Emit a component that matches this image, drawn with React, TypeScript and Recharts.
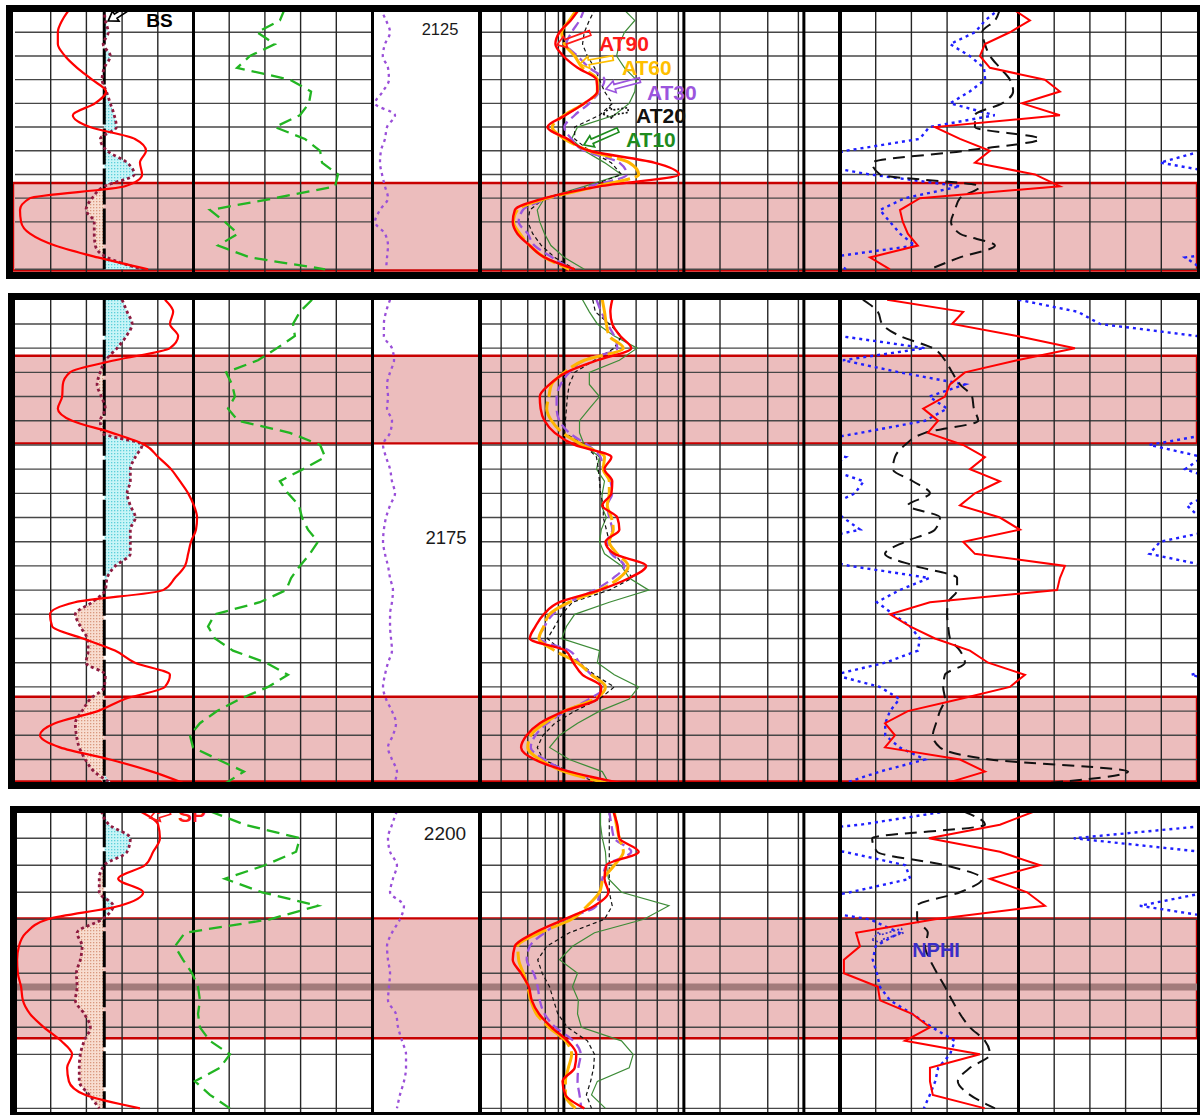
import type { CSSProperties } from 'react'
import {
  ComposedChart,
  Line,
  Area,
  XAxis,
  YAxis,
  CartesianGrid,
  ReferenceArea,
  ReferenceDot,
} from 'recharts'

const FONT = '"Liberation Sans", Arial, Helvetica, sans-serif'

// ---------- interval 1 : 2123–2145 m ----------
const P1_DEPTH = [2123, 2124, 2125, 2126, 2127, 2128, 2129, 2130, 2131, 2132, 2133, 2134, 2135, 2136, 2137, 2138, 2139, 2140, 2141, 2142, 2143, 2144, 2145]
const P1_SP = [-84.6, -86.8, -88.0, -88.0, -86.0, -82.6, -78.4, -74.5, -77.6, -83.8, -79.0, -66.4, -63.3, -65.0, -64.4, -69.2, -95.8, -98.6, -98.3, -95.8, -88.8, -76.8, -62.7]
const P1_GR = [113.4, 111.3, 101.7, 109.2, 98.7, 93.3, 115.5, 124.4, 123.5, 119.7, 109.2, 121.8, 128.2, 129.0, 135.7, 134.5, 109.2, 81.9, 88.2, 93.7, 85.3, 98.7, 130.3]
const P1_CALI = [8.5, 8.53, 8.61, 8.47, 8.67, 8.5, 8.44, 8.56, 8.67, 8.78, 8.84, 8.39, 8.58, 9.14, 9.34, 8.5, 8.16, 7.99, 8.22, 8.22, 8.25, 8.58, 9.56]
const P1_CCL = [0.74, 1.3, 1.67, 1.2, 1.0, 1.48, 1.57, 1.0, 0.28, 2.13, 1.39, 1.2, 0.83, 0.74, 0.93, 1.2, 1.48, 0.74, 0.28, 1.2, 1.48, 1.39, 1.3]
const P1_AT10 = [31, 39, 32, 29, 27.5, 32, 40, 39, 35, 26.3, 13.0, 11.6, 14.8, 21.8, 30.2, 14.8, 6.9, 6.0, 6.3, 6.9, 7.8, 10.1, 14.8]
const P1_AT20 = [18.3, 16.3, 14.8, 14.3, 15.7, 18.0, 19.8, 21.8, 25.4, 19.8, 12.3, 12.3, 16.3, 24.8, 30.2, 16.3, 6.9, 5.2, 5.0, 5.5, 6.5, 8.4, 12.3]
const P1_AT30 = [14.8, 13.5, 11.6, 10.5, 13.0, 16.3, 21.8, 19.8, 16.3, 12.3, 10.1, 11.6, 14.8, 29, 33.5, 16.3, 7.6, 4.55, 4.2, 5.0, 5.7, 8.0, 11.6]
const P1_AT60 = [13.0, 11.1, 9.6, 10.1, 12.3, 14.3, 19.0, 19.0, 14.8, 10.1, 8.0, 10.1, 16.3, 35, 42, 19, 7.3, 4.1, 3.8, 4.3, 5.2, 6.9, 11.1]
const P1_AT90 = [13.5, 11.4, 9.2, 8.5, 9.9, 13.0, 18.7, 19.0, 14.8, 10.3, 7.3, 10.7, 16.3, 56.5, 91, 19.8, 6.9, 3.9, 3.75, 4.1, 5.2, 6.9, 12.3]
const P1_RHOB = [2.432, 2.482, 2.426, 2.356, 2.342, 2.37, 2.524, 2.566, 2.46, 2.566, 2.216, 2.286, 2.37, 2.328, 2.496, 2.566, 2.174, 2.118, 2.126, 2.14, 2.168, 2.034, 2.09]
const P1_DT = [95.2, 96.6, 100.2, 99.4, 98.0, 95.2, 92.4, 91.5, 94.6, 102.2, 102.2, 84.0, 105.0, 131.0, 128.8, 100.8, 106.4, 107.8, 108.9, 106.4, 96.6, 106.4, 114.8]
const P1_NPHI = [0.181, 0.206, 0.223, 0.265, 0.232, 0.208, 0.206, 0.232, 0.265, 0.19, 0.3, 0.316, 0.44, 0.512, 0.4, 0.248, 0.341, 0.383, 0.366, 0.349, 0.324, 0.47, 0.44]
const P1_GRID = [2125, 2127, 2129, 2131, 2133, 2135, 2137, 2139, 2141, 2143, 2145]
const P1_ZONES: [number, number][] = [[2137.72, 2145.1]]

// ---------- interval 2 : 2155–2195 m ----------
const P2_DEPTH = [2155, 2156, 2157, 2158, 2159, 2160, 2161, 2162, 2163, 2164, 2165, 2166, 2167, 2168, 2169, 2170, 2171, 2172, 2173, 2174, 2175, 2176, 2177, 2178, 2179, 2180, 2181, 2182, 2183, 2184, 2185, 2186, 2187, 2188, 2189, 2190, 2191, 2192, 2193, 2194, 2195]
const P2_SP = [-58.0, -55.7, -56.6, -54.3, -56.6, -72.0, -84.6, -86.6, -86.8, -88.0, -84.0, -72.8, -63.6, -59.9, -56.3, -53.8, -51.5, -49.9, -49.0, -49.3, -50.7, -51.5, -52.4, -55.2, -58.5, -83.2, -90.2, -89.6, -81.0, -72.0, -66.4, -56.6, -58.0, -69.2, -76.8, -88.8, -93.0, -87.4, -73.4, -61.6, -52.4]
const P2_GR = [124.8, 119.7, 116.8, 117.6, 110.1, 102.1, 88.7, 91.2, 92.4, 89.5, 93.7, 115.5, 128.2, 130.3, 121.0, 111.3, 114.7, 119.3, 120.6, 123.1, 127.3, 123.9, 119.7, 116.0, 113.9, 102.9, 84.0, 81.1, 84.0, 91.6, 105.5, 114.7, 106.3, 94.5, 84.9, 77.7, 73.5, 74.8, 85.3, 96.2, 88.2]
const P2_CALI = [9.0, 9.14, 9.28, 9.12, 8.86, 8.53, 8.39, 8.3, 8.42, 8.53, 8.39, 8.44, 9.56, 9.37, 9.23, 9.23, 9.14, 9.23, 9.37, 9.23, 9.23, 9.23, 8.81, 8.58, 8.53, 8.16, 7.69, 7.83, 8.02, 8.05, 7.99, 8.53, 8.5, 8.11, 7.88, 7.69, 7.72, 7.8, 7.97, 8.22, 8.72]
const P2_CCL = [1.67, 1.3, 1.1, 1.1, 1.85, 2.04, 1.67, 1.39, 1.48, 1.39, 1.85, 1.67, 1.02, 1.3, 1.67, 1.85, 2.13, 1.67, 1.3, 1.1, 1.02, 1.2, 1.48, 1.67, 1.94, 1.85, 1.67, 1.67, 1.76, 1.85, 1.48, 1.2, 1.02, 1.3, 1.85, 2.22, 1.94, 1.48, 1.85, 2.31, 2.04]
const P2_AT10 = [14.3, 16.3, 19.0, 26.3, 40.8, 29, 16.3, 16.3, 19.8, 16.3, 13.5, 13.5, 14.8, 19.8, 18.7, 21.8, 20.9, 20.5, 22.6, 20.5, 19.8, 21.8, 30.2, 35, 51, 23.9, 12.3, 10.5, 9.6, 19.8, 19.0, 26.3, 42, 35, 19.8, 13.0, 9.2, 7.6, 11.1, 20.9, 23.9]
const P2_AT20 = [17.4, 18.3, 23.9, 30.2, 26.3, 18.0, 12.3, 11.1, 10.7, 10.5, 10.3, 10.1, 14.8, 18.7, 19.4, 19.8, 20.2, 21.3, 21.3, 22.6, 23.9, 26.3, 31.9, 37.1, 23.9, 11.8, 9.6, 8.4, 7.3, 9.6, 13.5, 18.0, 26.3, 19.8, 12.3, 8.4, 6.7, 6.0, 6.7, 11.1, 19.8]
const P2_AT30 = [18.7, 20.5, 23.0, 26.3, 27.9, 14.8, 11.1, 9.4, 8.7, 8.7, 9.2, 11.1, 15.7, 20.2, 21.3, 24.4, 25.3, 23.0, 23.9, 25.3, 23.0, 24.9, 31.9, 25.8, 18.0, 11.1, 8.1, 6.9, 6.3, 11.1, 13.5, 17.0, 21.8, 16.3, 10.5, 7.3, 5.8, 5.3, 6.9, 11.1, 26.3]
const P2_AT60 = [20.9, 21.8, 22.6, 23.9, 31.3, 14.8, 10.1, 7.9, 7.5, 7.2, 7.9, 9.75, 14.3, 21.8, 21.3, 23.9, 23.9, 23.0, 24.9, 25.8, 23.9, 27.9, 34.4, 29, 19.8, 11.1, 7.6, 6.8, 6.2, 8.4, 13.0, 17.0, 22.2, 18.0, 10.1, 6.9, 5.3, 5.0, 6.3, 10.1, 23.9]
const P2_AT90 = [25.3, 24.4, 25.3, 29.5, 36.4, 19.0, 10.5, 7.6, 6.3, 6.4, 6.9, 8.4, 12.3, 24.9, 21.8, 25.3, 24.9, 20.9, 27.9, 29, 22.2, 26.3, 48.5, 35, 19.8, 9.2, 6.8, 5.8, 5.2, 10.3, 12.0, 14.3, 20.5, 19.0, 10.1, 6.3, 4.9, 4.4, 5.7, 11.1, 31.9]
const P2_RHOB = [2.082, 2.295, 2.264, 2.446, 2.608, 2.446, 2.3, 2.258, 2.244, 2.183, 2.225, 2.196, 2.295, 2.356, 2.314, 2.398, 2.328, 2.286, 2.398, 2.454, 2.295, 2.328, 2.58, 2.566, 2.558, 2.202, 2.09, 2.146, 2.216, 2.314, 2.365, 2.468, 2.426, 2.286, 2.14, 2.076, 2.104, 2.076, 2.286, 2.356, 2.244]
const P2_DT = [133.6, 129.4, 128.2, 123.2, 114.0, 110.6, 108.6, 106.4, 103.0, 102.5, 101.3, 116.2, 121.8, 124.6, 125.2, 119.6, 114.8, 121.0, 112.0, 113.4, 121.8, 127.4, 119.0, 107.2, 107.2, 109.7, 110.0, 109.7, 109.2, 106.4, 105.0, 110.6, 111.1, 110.6, 112.0, 113.1, 114.0, 112.0, 98.0, 59.3, 84.0]
const P2_NPHI = [0.75, 0.65, 0.613, 0.45, 0.307, 0.445, 0.35, 0.24, 0.3, 0.27, 0.307, 0.416, 0.53, 0.44, 0.47, 0.41, 0.425, 0.467, 0.445, 0.416, 0.512, 0.53, 0.433, 0.3, 0.35, 0.388, 0.36, 0.332, 0.316, 0.319, 0.374, 0.46, 0.383, 0.35, 0.366, 0.374, 0.374, 0.35, 0.307, 0.383, 0.445]
const P2_GRID = [2155, 2157, 2159, 2161, 2163, 2165, 2167, 2169, 2171, 2173, 2175, 2177, 2179, 2181, 2183, 2185, 2187, 2189, 2191, 2193]
const P2_ZONES: [number, number][] = [[2159.63, 2166.87], [2187.81, 2194.82]]

// ---------- interval 3 : 2198–2220 m ----------
const P3_DEPTH = [2198, 2199, 2200, 2201, 2202, 2203, 2204, 2205, 2206, 2207, 2208, 2209, 2210, 2211, 2212, 2213, 2214, 2215, 2216, 2217, 2218, 2219, 2220]
const P3_SP = [-65.0, -59.9, -59.4, -61.3, -63.6, -71.1, -64.1, -70.6, -90.8, -96.9, -98.9, -99.4, -99.2, -98.3, -97.8, -95.8, -91.9, -87.1, -84.0, -85.4, -84.9, -80.4, -65.0]
const P3_GR = [81.9, 96.6, 119.7, 118.1, 105.0, 88.2, 103.8, 127.3, 107.1, 71.4, 67.2, 70.6, 74.4, 76.9, 77.7, 76.9, 77.7, 81.9, 90.3, 86.1, 75.6, 81.9, 90.3]
const P3_CALI = [8.42, 8.64, 9.23, 9.14, 8.5, 8.36, 8.36, 8.75, 8.44, 7.74, 7.88, 7.83, 7.72, 7.74, 7.69, 7.94, 8.11, 7.94, 7.83, 7.8, 7.8, 8.08, 8.36]
const P3_CCL = [2.3, 1.85, 1.48, 1.67, 2.31, 1.94, 1.67, 2.96, 2.59, 1.85, 1.39, 1.48, 1.67, 1.57, 1.48, 2.22, 2.41, 2.78, 3.15, 3.15, 2.96, 2.59, 2.31]
const P3_AT10 = [20.2, 20.2, 20.9, 22.2, 22.6, 23.5, 30.2, 75, 46.4, 18.0, 11.8, 9.2, 13.0, 11.8, 13.2, 13.0, 14.0, 30.2, 37.8, 35, 19.0, 17.0, 22.2]
const P3_AT20 = [23.9, 23.9, 23.9, 23.9, 23.9, 23.9, 23.9, 25.3, 21.8, 11.1, 7.2, 6.05, 6.6, 7.6, 8.2, 8.9, 10.7, 15.7, 18.0, 17.7, 16.7, 15.4, 17.0]
const P3_AT30 = [23.9, 24.9, 26.3, 36.4, 22.6, 20.9, 19.8, 18.7, 10.3, 6.9, 5.2, 4.9, 5.6, 6.05, 6.3, 6.9, 8.5, 12.0, 13.8, 13.2, 13.0, 13.5, 14.0]
const P3_AT60 = [26.3, 27.4, 29, 31.3, 26.3, 21.3, 19.8, 15.7, 11.6, 6.3, 4.13, 4.2, 4.6, 5.0, 5.3, 5.9, 7.5, 10.3, 11.6, 10.9, 10.3, 10.3, 12.5]
const P3_AT90 = [25.8, 27.9, 29, 42, 22.6, 21.8, 23.5, 18.0, 10.1, 5.7, 3.9, 3.75, 4.4, 5.1, 5.4, 6.2, 7.9, 10.7, 12.7, 12.3, 9.75, 10.3, 14.8]
const P3_RHOB = [2.496, 2.398, 2.199, 2.398, 2.51, 2.37, 2.474, 2.524, 2.216, 1.995, 2.006, 1.961, 1.961, 2.056, 2.062, 2.152, 2.202, 2.132, 2.342, 2.202, 2.202, 2.21, 2.356]
const P3_DT = [105.5, 99.4, 131.0, 129.6, 110.6, 100.2, 106.4, 118.4, 118.4, 115.4, 116.2, 114.8, 112.8, 110.6, 108.6, 106.4, 103.6, 99.4, 98.0, 103.6, 107.0, 103.6, 96.6]
const P3_NPHI = [0.27, 0.416, 0.657, 0.443, 0.34, 0.332, 0.433, 0.546, 0.4, 0.35, 0.39, 0.395, 0.388, 0.383, 0.366, 0.329, 0.295, 0.257, 0.265, 0.285, 0.29, 0.299, 0.309]
const P3_GRID = [2200, 2202, 2204, 2206, 2208, 2210, 2212, 2214, 2216, 2218, 2220]
const P3_ZONES: [number, number][] = [[2205.93, 2214.81]]
const P3_MARKER: [number, number] = [2210.76, 2211.27]

// ---------- scales ----------
const BIT_SIZE = 8.5
const SP_DOMAIN = [-100, 0]
const GR_DOMAIN = [0, 150]
const CALI_DOMAIN = [6, 16]
const CCL_DOMAIN = [0, 10]
const RES_DOMAIN = [2, 2000]
const RHOB_DOMAIN = [1.95, 2.95]
const NPHI_DOMAIN = [-0.15, 0.45]
const DT_DOMAIN = [40, 140]
const NPHI_WRAP = 0.6 // backup scale shift for neutron values past the left edge

const SP_DIVS = [-90, -80, -70, -60, -40, -30, -20, -10]
const SP_MAJOR = [-50]
const RES_MINOR = [3, 4, 5, 6, 7, 8, 9, 20, 30, 40, 50, 60, 70, 80, 90, 200, 300, 400, 500, 600, 700, 800, 900]
const RES_MAJOR = [10, 100, 1000]
const RHOB_DIVS = [2.05, 2.15, 2.25, 2.35, 2.55, 2.65, 2.75, 2.85]
const RHOB_MAJOR = [2.45]

const TRACK_SP = { left: 15, width: 357 }
const TRACK_DEPTH = { left: 372, width: 108 }
const TRACK_RES = { left: 480, width: 360 }
const TRACK_POR = { left: 840, width: 357 }
const ZONE_SPAN = { left: 13, right: 1197 }

const GRID_H = '#474747'
const GRID_V = '#262626'
const NO_MARGIN = { top: 0, right: 0, bottom: 0, left: 0 }

type Row = {
  depth: number
  sp: number
  gr: number
  cali: number
  ccl: number
  at10: number
  at20: number
  at30: number
  at60: number
  at90: number
  rhob: number
  dt: number
  nphi: number
}

type Curves = Omit<Record<keyof Row, number[]>, 'depth'>

function buildRows(depth: number[], c: Curves): Row[] {
  return depth.map((d, i) => ({
    depth: d,
    sp: c.sp[i],
    gr: c.gr[i],
    cali: c.cali[i],
    ccl: c.ccl[i],
    at10: c.at10[i],
    at20: c.at20[i],
    at30: c.at30[i],
    at60: c.at60[i],
    at90: c.at90[i],
    rhob: c.rhob[i],
    dt: c.dt[i],
    nphi: c.nphi[i],
  }))
}

interface Note {
  text: string
  color: string
  value: number
  depth: number
  textDx: number
  textDy: number
  tailDx?: number
  tailDy?: number
  size: number
  dashed?: boolean
}

interface DepthTag {
  depth: number
  value: number
  size: number
  dy: number
}

interface Panel {
  id: string
  frame: { left: number; top: number; height: number }
  top: number
  height: number
  depthDomain: [number, number]
  gridDepths: number[]
  zones: [number, number][]
  marker?: [number, number]
  tags: DepthTag[]
  rows: Row[]
  spNotes: Note[]
  resNotes: Note[]
  porNotes: Note[]
}

const PANELS: Panel[] = [
  {
    id: 'a',
    frame: { left: 6, top: 5, height: 274 },
    top: 12,
    height: 260,
    depthDomain: [2123.29, 2145.23],
    gridDepths: P1_GRID,
    zones: P1_ZONES,
    tags: [{ depth: 2125, value: 6.3, size: 16.5, dy: 2.7 }],
    rows: buildRows(P1_DEPTH, {
      sp: P1_SP, gr: P1_GR, cali: P1_CALI, ccl: P1_CCL,
      at10: P1_AT10, at20: P1_AT20, at30: P1_AT30, at60: P1_AT60, at90: P1_AT90,
      rhob: P1_RHOB, dt: P1_DT, nphi: P1_NPHI,
    }),
    spNotes: [
      { text: 'BS', color: '#000', value: 8.61, depth: 2124.05, textDx: 38, textDy: 6, tailDx: 17, tailDy: -11, size: 19 },
    ],
    resNotes: [
      { text: 'AT90', color: '#ff1a1a', value: 8.77, depth: 2126.07, textDx: 42, textDy: 6, tailDx: 33, tailDy: -12, size: 21 },
      { text: 'AT60', color: '#ffbf00', value: 13.6, depth: 2127.68, textDx: 42, textDy: 11, tailDx: 33, tailDy: -6, size: 21 },
      { text: 'AT30', color: '#9b55dd', value: 22.4, depth: 2129.79, textDx: 41, textDy: 11, tailDx: 34, tailDy: -9, size: 21 },
      { text: 'AT20', color: '#111', value: 21.2, depth: 2131.9, textDx: 33, textDy: 9, tailDx: 25, tailDy: -4, size: 21, dashed: true },
      { text: 'AT10', color: '#1e8c1e', value: 14.7, depth: 2134.51, textDx: 42, textDy: 2, tailDx: 34, tailDy: -15, size: 21 },
    ],
    porNotes: [],
  },
  {
    id: 'b',
    frame: { left: 8, top: 293, height: 496 },
    top: 300,
    height: 482,
    depthDomain: [2155.02, 2194.86],
    gridDepths: P2_GRID,
    zones: P2_ZONES,
    tags: [{ depth: 2175, value: 6.85, size: 18.5, dy: 2.3 }],
    rows: buildRows(P2_DEPTH, {
      sp: P2_SP, gr: P2_GR, cali: P2_CALI, ccl: P2_CCL,
      at10: P2_AT10, at20: P2_AT20, at30: P2_AT30, at60: P2_AT60, at90: P2_AT90,
      rhob: P2_RHOB, dt: P2_DT, nphi: P2_NPHI,
    }),
    spNotes: [],
    resNotes: [],
    porNotes: [],
  },
  {
    id: 'c',
    frame: { left: 10, top: 806, height: 313 },
    top: 813,
    height: 299,
    depthDomain: [2198.13, 2220.27],
    gridDepths: P3_GRID,
    zones: P3_ZONES,
    marker: P3_MARKER,
    tags: [{ depth: 2200, value: 6.76, size: 19, dy: 1.7 }],
    rows: buildRows(P3_DEPTH, {
      sp: P3_SP, gr: P3_GR, cali: P3_CALI, ccl: P3_CCL,
      at10: P3_AT10, at20: P3_AT20, at30: P3_AT30, at60: P3_AT60, at90: P3_AT90,
      rhob: P3_RHOB, dt: P3_DT, nphi: P3_NPHI,
    }),
    spNotes: [
      { text: 'SP', color: '#ff1a1a', value: -62.2, depth: 2198.5, textDx: 28, textDy: 4, tailDx: 20, tailDy: -6, size: 21 },
    ],
    resNotes: [],
    porNotes: [
      { text: 'NPHI', color: '#3a2ec8', value: 0.396, depth: 2207.53, textDx: 40, textDy: 17, tailDx: 30, tailDy: -9, size: 20, dashed: true },
    ],
  },
]

function box(track: { left: number; width: number }, p: Panel): CSSProperties {
  return { position: 'absolute', left: track.left, top: p.top, width: track.width, height: p.height }
}

// hollow block arrow pointing at the curve, with the curve name beside it
function Callout({ cx, cy, note }: { cx?: number; cy?: number; note: Note }) {
  if (cx == null || cy == null) return null
  const tx = note.tailDx ?? 0
  const ty = note.tailDy ?? 0
  const len = Math.hypot(tx, ty)
  let arrow = null
  if (len > 0) {
    const ux = tx / len
    const uy = ty / len
    const nx = -uy
    const ny = ux
    const head = 9
    const wing = 6
    const shaft = 2.4
    const pts = [
      [0, 0],
      [ux * head + nx * wing, uy * head + ny * wing],
      [ux * head + nx * shaft, uy * head + ny * shaft],
      [ux * len + nx * shaft, uy * len + ny * shaft],
      [ux * len - nx * shaft, uy * len - ny * shaft],
      [ux * head - nx * shaft, uy * head - ny * shaft],
      [ux * head - nx * wing, uy * head - ny * wing],
    ]
      .map(([x, y]) => `${cx + x},${cy + y}`)
      .join(' ')
    arrow = (
      <polygon
        points={pts}
        fill="none"
        stroke={note.color}
        strokeWidth={1.7}
        strokeDasharray={note.dashed ? '2 2' : undefined}
      />
    )
  }
  return (
    <g>
      {arrow}
      <text
        x={cx + note.textDx}
        y={cy + note.textDy}
        fill={note.color}
        fontSize={note.size}
        fontWeight={700}
        fontFamily={FONT}
      >
        {note.text}
      </text>
    </g>
  )
}

function DepthLabel({ cx, cy, tag }: { cx?: number; cy?: number; tag: DepthTag }) {
  if (cx == null || cy == null) return null
  return (
    <text x={cx} y={cy + tag.dy} textAnchor="middle" fontSize={tag.size} fontFamily={FONT} fill="#1a1a1a">
      {tag.depth}
    </text>
  )
}

function SpTrack({ p }: { p: Panel }) {
  const wash = `wash-${p.id}`
  const cake = `cake-${p.id}`
  return (
    <div style={box(TRACK_SP, p)}>
      <ComposedChart width={TRACK_SP.width} height={p.height} layout="vertical" data={p.rows} margin={NO_MARGIN}>
        <defs>
          <pattern id={wash} width={3} height={3} patternUnits="userSpaceOnUse">
            <rect width={3} height={3} fill="#c8f5f7" />
            <rect width={1.3} height={1.3} fill="#5ccfd9" />
          </pattern>
          <pattern id={cake} width={3} height={3} patternUnits="userSpaceOnUse">
            <rect width={3} height={3} fill="#f8ddd0" />
            <rect width={1.3} height={1.3} fill="#d9987e" />
          </pattern>
        </defs>
        <XAxis xAxisId="sp" type="number" domain={SP_DOMAIN} allowDataOverflow hide />
        <XAxis xAxisId="gr" type="number" domain={GR_DOMAIN} allowDataOverflow hide />
        <XAxis xAxisId="cali" type="number" domain={CALI_DOMAIN} allowDataOverflow hide />
        <YAxis yAxisId="depth" type="number" dataKey="depth" domain={p.depthDomain} allowDataOverflow hide />
        <CartesianGrid xAxisId="sp" yAxisId="depth" vertical={false} horizontalValues={p.gridDepths} stroke={GRID_H} strokeWidth={1.4} />
        <CartesianGrid xAxisId="sp" yAxisId="depth" horizontal={false} verticalValues={SP_DIVS} stroke={GRID_V} strokeWidth={1.4} />
        <CartesianGrid xAxisId="sp" yAxisId="depth" horizontal={false} verticalValues={SP_MAJOR} stroke="#000" strokeWidth={3} />
        {/* hole larger than bit: cyan; smaller than bit: mud cake */}
        <Area
          xAxisId="cali"
          yAxisId="depth"
          type="monotone"
          dataKey={(r: Row) => [BIT_SIZE, Math.max(r.cali, BIT_SIZE)]}
          stroke="none"
          fill={`url(#${wash})`}
          fillOpacity={1}
          isAnimationActive={false}
        />
        <Area
          xAxisId="cali"
          yAxisId="depth"
          type="monotone"
          dataKey={(r: Row) => [Math.min(r.cali, BIT_SIZE), BIT_SIZE]}
          stroke="none"
          fill={`url(#${cake})`}
          fillOpacity={1}
          isAnimationActive={false}
        />
        <Line xAxisId="cali" yAxisId="depth" type="linear" dataKey={() => BIT_SIZE} name="BS" stroke="#000" strokeWidth={3} strokeDasharray="36 4" dot={false} isAnimationActive={false} />
        <Line xAxisId="cali" yAxisId="depth" type="monotone" dataKey="cali" name="CALI" stroke="#8e1b40" strokeWidth={2.8} strokeDasharray="3 3" dot={false} isAnimationActive={false} />
        <Line xAxisId="sp" yAxisId="depth" type="monotone" dataKey="sp" name="SP" stroke="#ff0000" strokeWidth={2.2} dot={false} isAnimationActive={false} />
        <Line xAxisId="gr" yAxisId="depth" type="linear" dataKey="gr" name="GR" stroke="#22b522" strokeWidth={2.3} strokeDasharray="13 7" dot={false} isAnimationActive={false} />
        {p.spNotes.map((n) => (
          <ReferenceDot
            key={n.text}
            xAxisId={n.text === 'BS' ? 'cali' : 'sp'}
            yAxisId="depth"
            x={n.value}
            y={n.depth}
            r={0}
            shape={(props: { cx?: number; cy?: number }) => <Callout cx={props.cx} cy={props.cy} note={n} />}
          />
        ))}
      </ComposedChart>
    </div>
  )
}

function DepthTrack({ p }: { p: Panel }) {
  return (
    <div style={box(TRACK_DEPTH, p)}>
      <ComposedChart width={TRACK_DEPTH.width} height={p.height} layout="vertical" data={p.rows} margin={NO_MARGIN}>
        <XAxis xAxisId="ccl" type="number" domain={CCL_DOMAIN} allowDataOverflow hide />
        <YAxis yAxisId="depth" type="number" dataKey="depth" domain={p.depthDomain} allowDataOverflow hide />
        <Line xAxisId="ccl" yAxisId="depth" type="monotone" dataKey="ccl" name="CCL" stroke="#9a4fd8" strokeWidth={2.3} strokeDasharray="3 4" dot={false} isAnimationActive={false} />
        {p.tags.map((t) => (
          <ReferenceDot
            key={t.depth}
            xAxisId="ccl"
            yAxisId="depth"
            x={t.value}
            y={t.depth}
            r={0}
            shape={(props: { cx?: number; cy?: number }) => <DepthLabel cx={props.cx} cy={props.cy} tag={t} />}
          />
        ))}
      </ComposedChart>
    </div>
  )
}

function ResTrack({ p }: { p: Panel }) {
  return (
    <div style={box(TRACK_RES, p)}>
      <ComposedChart width={TRACK_RES.width} height={p.height} layout="vertical" data={p.rows} margin={NO_MARGIN}>
        <XAxis xAxisId="res" type="number" scale="log" domain={RES_DOMAIN} allowDataOverflow hide />
        <YAxis yAxisId="depth" type="number" dataKey="depth" domain={p.depthDomain} allowDataOverflow hide />
        <CartesianGrid xAxisId="res" yAxisId="depth" vertical={false} horizontalValues={p.gridDepths} stroke={GRID_H} strokeWidth={1.4} />
        <CartesianGrid xAxisId="res" yAxisId="depth" horizontal={false} verticalValues={RES_MINOR} stroke={GRID_V} strokeWidth={1.4} />
        <CartesianGrid xAxisId="res" yAxisId="depth" horizontal={false} verticalValues={RES_MAJOR} stroke="#000" strokeWidth={3} />
        <Line xAxisId="res" yAxisId="depth" type="linear" dataKey="at10" name="AT10" stroke="#3d8b37" strokeWidth={1.2} dot={false} isAnimationActive={false} />
        <Line xAxisId="res" yAxisId="depth" type="linear" dataKey="at20" name="AT20" stroke="#111" strokeWidth={1.2} strokeDasharray="4 3" dot={false} isAnimationActive={false} />
        <Line xAxisId="res" yAxisId="depth" type="monotone" dataKey="at30" name="AT30" stroke="#9b55dd" strokeWidth={2.3} strokeDasharray="10 5" dot={false} isAnimationActive={false} />
        <Line xAxisId="res" yAxisId="depth" type="monotone" dataKey="at60" name="AT60" stroke="#ffb400" strokeWidth={3} strokeDasharray="34 5" dot={false} isAnimationActive={false} />
        <Line xAxisId="res" yAxisId="depth" type="monotone" dataKey="at90" name="AT90" stroke="#ff0000" strokeWidth={2.4} dot={false} isAnimationActive={false} />
        {p.resNotes.map((n) => (
          <ReferenceDot
            key={n.text}
            xAxisId="res"
            yAxisId="depth"
            x={n.value}
            y={n.depth}
            r={0}
            shape={(props: { cx?: number; cy?: number }) => <Callout cx={props.cx} cy={props.cy} note={n} />}
          />
        ))}
      </ComposedChart>
    </div>
  )
}

function PorTrack({ p }: { p: Panel }) {
  return (
    <div style={box(TRACK_POR, p)}>
      <ComposedChart width={TRACK_POR.width} height={p.height} layout="vertical" data={p.rows} margin={NO_MARGIN}>
        <XAxis xAxisId="rhob" type="number" domain={RHOB_DOMAIN} allowDataOverflow hide />
        <XAxis xAxisId="nphi" type="number" domain={NPHI_DOMAIN} reversed allowDataOverflow hide />
        <XAxis xAxisId="dt" type="number" domain={DT_DOMAIN} reversed allowDataOverflow hide />
        <YAxis yAxisId="depth" type="number" dataKey="depth" domain={p.depthDomain} allowDataOverflow hide />
        <CartesianGrid xAxisId="rhob" yAxisId="depth" vertical={false} horizontalValues={p.gridDepths} stroke={GRID_H} strokeWidth={1.4} />
        <CartesianGrid xAxisId="rhob" yAxisId="depth" horizontal={false} verticalValues={RHOB_DIVS} stroke={GRID_V} strokeWidth={1.4} />
        <CartesianGrid xAxisId="rhob" yAxisId="depth" horizontal={false} verticalValues={RHOB_MAJOR} stroke="#000" strokeWidth={3} />
        <Line xAxisId="nphi" yAxisId="depth" type="linear" dataKey="nphi" name="NPHI" stroke="#1f1fff" strokeWidth={2.4} strokeDasharray="3 4" dot={false} isAnimationActive={false} />
        <Line xAxisId="nphi" yAxisId="depth" type="linear" dataKey={(r: Row) => r.nphi - NPHI_WRAP} name="NPHI backup" stroke="#1f1fff" strokeWidth={2.4} strokeDasharray="3 4" dot={false} isAnimationActive={false} />
        <Line xAxisId="dt" yAxisId="depth" type="monotone" dataKey="dt" name="DT" stroke="#111" strokeWidth={2} strokeDasharray="12 7" dot={false} isAnimationActive={false} />
        <Line xAxisId="rhob" yAxisId="depth" type="linear" dataKey="rhob" name="RHOB" stroke="#ff0000" strokeWidth={2} dot={false} isAnimationActive={false} />
        {p.porNotes.map((n) => (
          <ReferenceDot
            key={n.text}
            xAxisId="nphi"
            yAxisId="depth"
            x={n.value}
            y={n.depth}
            r={0}
            shape={(props: { cx?: number; cy?: number }) => <Callout cx={props.cx} cy={props.cy} note={n} />}
          />
        ))}
      </ComposedChart>
    </div>
  )
}

// pay zones shaded across all tracks
function ZoneBand({ p }: { p: Panel }) {
  const w = ZONE_SPAN.right - ZONE_SPAN.left + 4
  return (
    <div style={{ position: 'absolute', left: ZONE_SPAN.left - 2, top: p.top, width: w, height: p.height }}>
      <ComposedChart width={w} height={p.height} layout="vertical" data={p.rows} margin={{ top: 0, right: 2, bottom: 0, left: 2 }}>
        <XAxis xAxisId="z" type="number" domain={[0, 1]} allowDataOverflow hide />
        <YAxis yAxisId="depth" type="number" dataKey="depth" domain={p.depthDomain} allowDataOverflow hide />
        {p.zones.map(([top, base]) => (
          <ReferenceArea
            key={top}
            xAxisId="z"
            yAxisId="depth"
            x1={0}
            x2={1}
            y1={top}
            y2={base}
            fill="#ecbdbd"
            fillOpacity={1}
            stroke="#c80000"
            strokeWidth={2.4}
          />
        ))}
        {p.marker && (
          <ReferenceArea
            xAxisId="z"
            yAxisId="depth"
            x1={0}
            x2={1}
            y1={p.marker[0]}
            y2={p.marker[1]}
            fill="#a37b7b"
            fillOpacity={1}
            stroke="none"
          />
        )}
      </ComposedChart>
    </div>
  )
}

function Frame({ p }: { p: Panel }) {
  return (
    <>
      <div style={{ position: 'absolute', left: 370.5, top: p.top, width: 3.5, height: p.height, background: '#000' }} />
      <div style={{ position: 'absolute', left: 478, top: p.top, width: 4, height: p.height, background: '#000' }} />
      <div style={{ position: 'absolute', left: 838, top: p.top, width: 4, height: p.height, background: '#000' }} />
      <div
        style={{
          position: 'absolute',
          left: p.frame.left,
          top: p.frame.top,
          width: 1200 - p.frame.left,
          height: p.frame.height,
          border: '7px solid #000',
          borderRightWidth: 3,
          boxSizing: 'border-box',
        }}
      />
    </>
  )
}

export default function App() {
  return (
    <div
      style={{
        position: 'absolute',
        left: 0,
        top: 0,
        width: 1203,
        height: 1115,
        background: '#fff',
        overflow: 'hidden',
        fontFamily: FONT,
      }}
    >
      {PANELS.map((p) => (
        <div key={p.id}>
          <ZoneBand p={p} />
          <SpTrack p={p} />
          <DepthTrack p={p} />
          <ResTrack p={p} />
          <PorTrack p={p} />
          <Frame p={p} />
        </div>
      ))}
    </div>
  )
}
